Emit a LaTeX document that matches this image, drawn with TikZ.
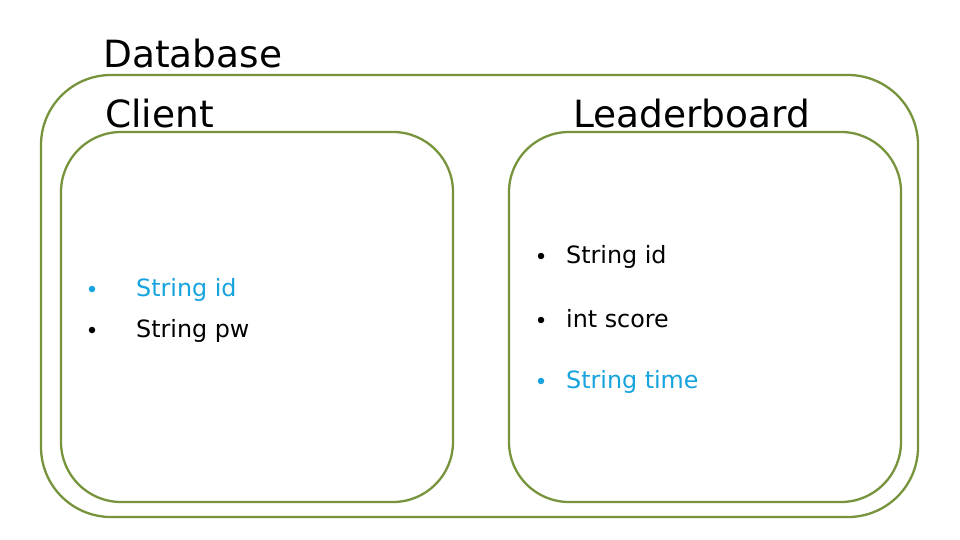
\documentclass[tikz,border=0pt]{standalone}
\usepackage{fontspec}
\setmainfont{DejaVu Sans}
\definecolor{boxgreen}{HTML}{77933C}
\definecolor{hiblue}{HTML}{16A3DE}
\begin{document}
\begin{tikzpicture}[x=1pt,y=-1pt,
  container/.style={draw=boxgreen,line width=2.3pt},
  title/.style={anchor=base west,inner sep=0pt,font=\fontsize{37.5}{42}\selectfont},
  item/.style={anchor=base west,inner sep=0pt,font=\fontsize{23.8}{27}\selectfont},
  dot/.style={circle,fill,inner sep=0pt,minimum size=6.5pt}]
\useasboundingbox[fill=white] (0,0) rectangle (960,540);
% containers
\draw[container,rounded corners=70pt] (41,75) rectangle (918,517);
\draw[container,rounded corners=60pt] (61,132) rectangle (453,502);
\draw[container,rounded corners=60pt] (509,132) rectangle (901,502);
% titles
\node[title] (db) at (103,68) {Database};
\node[title] (client) at (105,128) {Client};
\node[title] (lb) at (573,128) {Leaderboard};
% client items
\node[dot,hiblue] (cb1) at (92,289) {};
\node[item,text=hiblue] (c1) at (136,296) {String id};
\node[dot] (cb2) at (92,330) {};
\node[item] (c2) at (136,337) {String pw};
% leaderboard items
\node[dot] (lb1) at (541,256) {};
\node[item] (l1) at (566,263) {String id};
\node[dot] (lb2) at (541,320) {};
\node[item] (l2) at (566,327) {int score};
\node[dot,hiblue] (lb3) at (541,381) {};
\node[item,text=hiblue] (l3) at (566,388) {String time};
\end{tikzpicture}
\end{document}
